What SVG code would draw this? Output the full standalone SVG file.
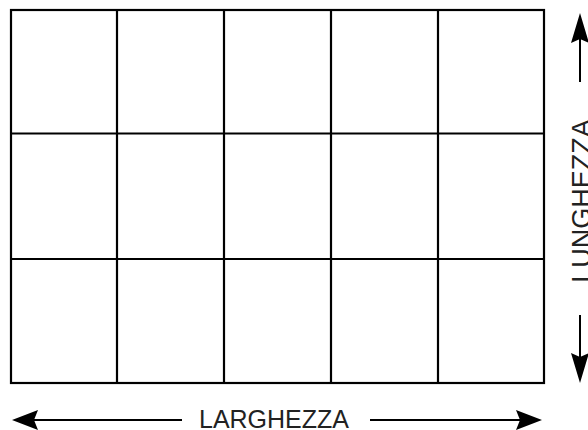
<svg xmlns="http://www.w3.org/2000/svg" width="588" height="430" viewBox="0 0 588 430">
<style>
.grid{fill:none;stroke:#000;stroke-width:2.2}
.cell{fill:#fff;stroke:#000;stroke-width:2.2}
.conn{fill:none;stroke:#000;stroke-width:2}
.head{fill:#000;stroke:none}
.lbl{font-family:"Liberation Sans",Arial,sans-serif;font-size:25px;fill:#222}
</style>
<rect width="588" height="430" fill="#fff"/>
<g id="grid">
<rect class="cell" x="11" y="10" width="533" height="373"/>
<line class="grid" x1="117" y1="10" x2="117" y2="383"/>
<line class="grid" x1="224" y1="10" x2="224" y2="383"/>
<line class="grid" x1="331" y1="10" x2="331" y2="383"/>
<line class="grid" x1="438" y1="10" x2="438" y2="383"/>
<line class="grid" x1="11" y1="133.5" x2="544" y2="133.5"/>
<line class="grid" x1="11" y1="259" x2="544" y2="259"/>
</g>
<g id="connectors">
<line class="conn" x1="30" y1="420" x2="182" y2="420"/>
<polygon class="head" points="12,420 38,410 34,420 38,430"/>
<line class="conn" x1="370" y1="420" x2="520" y2="420"/>
<polygon class="head" points="542,420 516,410 520,420 516,430"/>
<line class="conn" x1="580" y1="30" x2="580" y2="82"/>
<polygon class="head" points="580,13 571,43 580,39 589,43"/>
<line class="conn" x1="580" y1="315" x2="580" y2="365"/>
<polygon class="head" points="580,383 571,353 580,357 589,353"/>
</g>
<g id="label-larghezza">
<text class="lbl" x="274" y="428" text-anchor="middle">LARGHEZZA</text>
</g>
<g id="label-lunghezza">
<text class="lbl" style="font-size:27px" transform="translate(591,201) rotate(-90)" text-anchor="middle">LUNGHEZZA</text>
</g>
</svg>
